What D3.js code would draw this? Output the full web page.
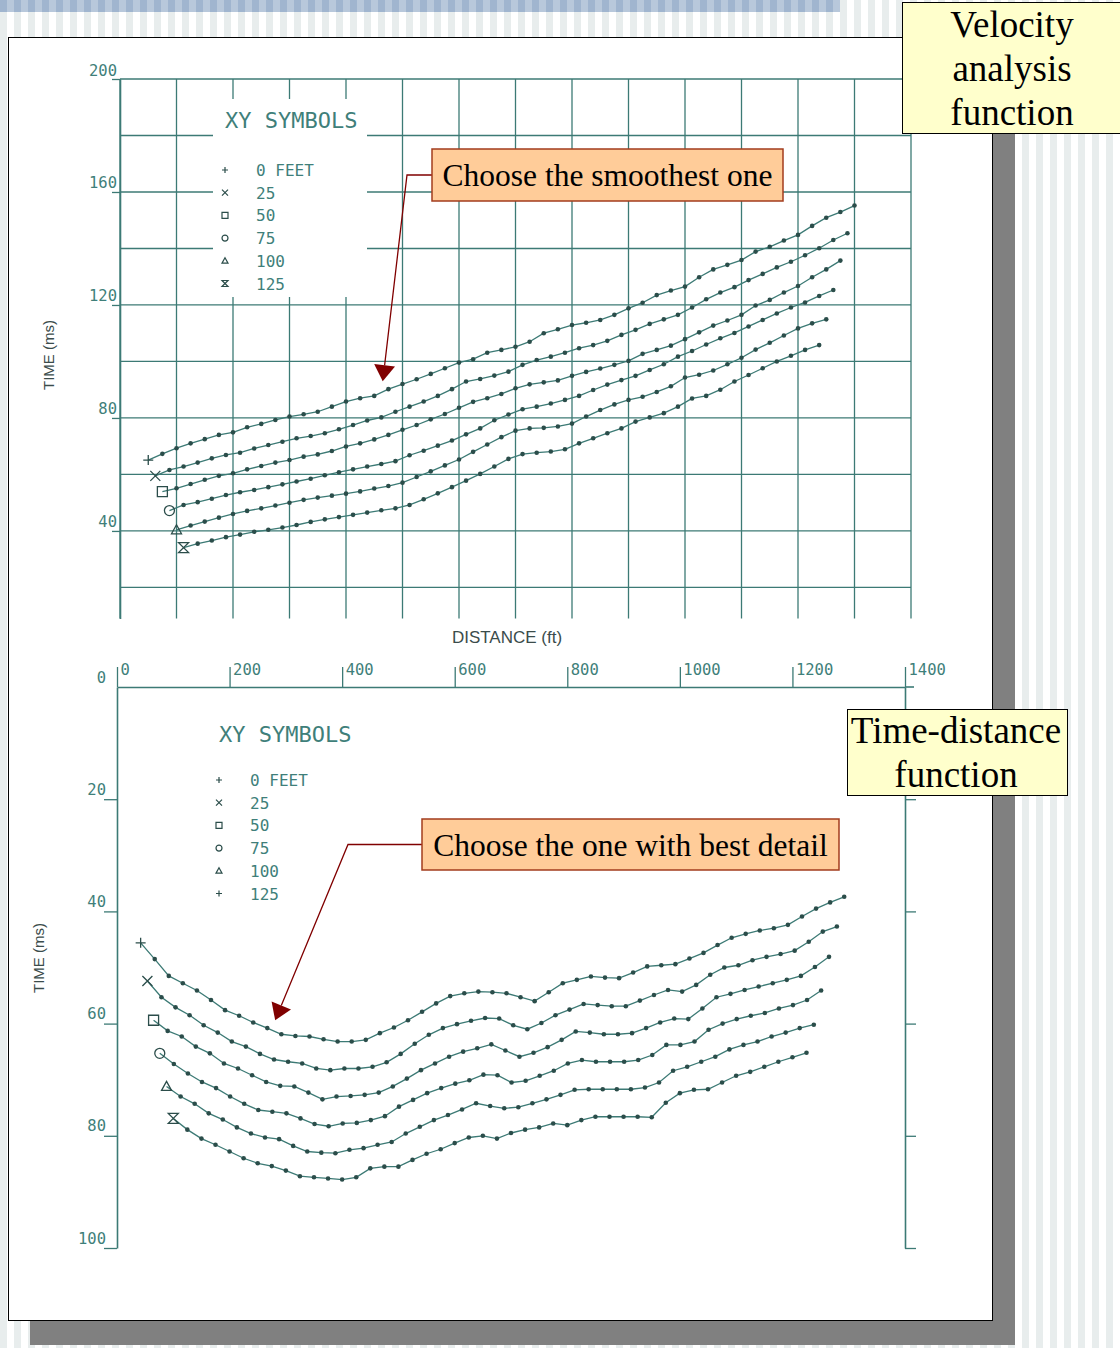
<!DOCTYPE html>
<html>
<head>
<meta charset="utf-8">
<script src="https://cdn.jsdelivr.net/npm/d3@7"></script>
<style>
    body { margin: 0; background: #fff; }
    svg { display: block; }
</style>
</head>
<body>
<svg id="slide" width="1120" height="1348"></svg>
<script>
// offsets shown in both legends (feet)
const offsets = [0, 25, 50, 75, 100, 125];
const pointStep = 25;

// velocity analysis (top plot): first distance of each offset curve, then times (ms) every 25 ft
const velStart = [50, 62.5, 75, 87.5, 100, 112.5];
const vel0 = [65.1, 67.3, 69.3, 71.0, 72.5, 74.0, 74.9, 76.7, 77.9, 79.3, 80.5, 81.3, 82.2, 84.0, 85.8, 87.0, 87.8, 90.2, 92.0, 93.7,
    95.6, 97.6, 99.6, 100.8, 103.1, 104.1, 105.2, 107.0, 110.0, 111.4, 112.9, 113.7, 114.7, 116.5, 118.8, 120.8, 123.5, 125.1, 126.5,
    129.8, 132.6, 134.2, 135.9, 138.9, 140.6, 142.8, 144.8, 148.0, 150.9, 152.9, 155.2];
const vel1 = [59.5, 61.6, 62.8, 64.2, 65.7, 66.9, 67.7, 69.2, 70.4, 71.6, 72.8, 73.6, 74.6, 76.0, 77.5, 79.1, 80.2, 82.2, 84.0, 85.8,
    87.8, 90.2, 92.9, 93.8, 95.0, 96.4, 98.8, 100.5, 101.7, 103.1, 104.7, 105.8, 107.3, 109.4, 111.2, 113.3, 114.9, 116.5, 119.1,
    122.0, 124.4, 126.3, 128.8, 131.0, 133.3, 135.3, 137.6, 140.1, 143.0, 145.4];
const vel2 = [53.9, 55.1, 56.6, 58.1, 59.5, 60.4, 61.8, 63.0, 64.2, 65.1, 66.3, 67.1, 68.3, 69.9, 71.0, 72.4, 74.0, 75.8, 77.5, 79.5,
    81.4, 83.6, 85.7, 87.0, 88.5, 90.5, 91.9, 92.6, 93.3, 94.9, 96.3, 97.5, 98.8, 100.2, 102.7, 104.1, 105.6, 107.9, 110.3, 112.7,
    114.5, 116.5, 119.8, 121.8, 124.4, 126.7, 129.8, 132.6, 135.7];
const vel3 = [47.2, 49.2, 50.2, 51.4, 52.7, 53.7, 54.5, 55.5, 56.5, 57.5, 58.5, 59.7, 60.8, 61.8, 62.8, 63.7, 64.7, 66.8, 68.4, 70.2,
    72.0, 74.2, 76.3, 79.2, 81.2, 83.1, 84.0, 85.1, 86.4, 87.8, 89.9, 91.8, 93.4, 94.9, 97.0, 99.0, 101.7, 103.7, 106.0, 108.2,
    110.1, 112.4, 114.7, 117.0, 119.1, 120.9, 123.2, 125.3];
const vel4 = [40.4, 41.9, 43.3, 44.7, 46.0, 47.1, 48.0, 49.0, 50.0, 51.0, 51.8, 52.5, 53.2, 54.0, 55.0, 55.9, 57.1, 59.1, 61.1, 63.2,
    65.3, 68.0, 70.6, 73.2, 75.5, 76.3, 76.5, 77.0, 78.0, 80.5, 82.8, 84.8, 86.4, 87.5, 89.2, 91.2, 94.3, 95.3, 96.8, 99.0,
    101.3, 104.2, 106.6, 109.2, 111.7, 113.5, 114.9];
const vel5 = [34.1, 35.5, 36.6, 37.8, 38.7, 39.7, 40.4, 41.2, 42.1, 43.2, 44.1, 44.9, 45.7, 46.5, 47.3, 48.0, 49.2, 51.2, 53.3, 55.5,
    57.8, 60.2, 62.8, 65.5, 67.2, 67.7, 68.1, 68.9, 71.0, 72.8, 74.6, 76.3, 78.7, 80.2, 81.7, 84.0, 86.9, 87.8, 90.0, 92.9,
    95.2, 97.6, 100.0, 102.0, 104.1, 105.8];

// time-distance (bottom plot)
const tdStart = [42, 54, 65, 76, 88, 100];
const td0 = [45.6, 48.5, 51.5, 52.8, 54.1, 55.8, 57.6, 58.6, 59.8, 60.8, 61.9, 62.2, 62.3, 62.8, 63.2, 63.2, 62.9, 61.7, 60.7, 59.4,
    57.9, 56.4, 55.1, 54.6, 54.3, 54.4, 54.6, 55.3, 56.0, 54.4, 52.8, 52.2, 51.6, 51.8, 51.9, 50.9, 49.8, 49.6, 49.4, 48.4,
    47.4, 46.0, 44.7, 44.0, 43.4, 43.0, 42.4, 40.9, 39.5, 38.4, 37.4];
const td1 = [52.4, 55.3, 57.1, 58.5, 60.3, 61.6, 63.2, 64.1, 65.4, 66.4, 66.8, 67.1, 68.0, 68.3, 68.0, 68.0, 67.7, 66.9, 65.4, 63.6,
    62.0, 60.8, 60.1, 59.5, 59.0, 59.1, 60.3, 61.0, 59.9, 58.5, 57.5, 56.5, 56.7, 56.9, 56.9, 55.9, 54.9, 54.0, 54.3, 53.1,
    51.3, 50.0, 49.6, 48.7, 48.1, 47.6, 47.0, 45.4, 43.6, 42.7];
const td2 = [59.4, 61.3, 62.3, 64.1, 65.3, 67.1, 68.0, 69.2, 70.4, 71.1, 71.2, 72.3, 73.5, 73.0, 72.9, 72.7, 72.3, 71.2, 69.8, 68.3,
    67.1, 65.9, 65.0, 64.4, 63.7, 64.8, 65.9, 65.2, 64.2, 62.9, 61.4, 61.6, 61.9, 61.9, 61.7, 60.8, 59.8, 59.1, 59.2, 57.3,
    55.3, 54.7, 54.0, 53.4, 52.8, 52.2, 51.5, 49.9, 48.1];
const td3 = [65.3, 67.2, 68.9, 70.4, 71.5, 73.0, 74.3, 75.4, 75.7, 76.0, 76.9, 77.9, 78.3, 77.8, 77.7, 77.2, 76.5, 74.8, 73.6, 72.4,
    71.5, 70.7, 70.1, 69.1, 69.2, 70.5, 70.2, 69.3, 68.4, 67.1, 66.5, 66.8, 66.8, 66.8, 66.5, 65.6, 63.8, 63.8, 63.2, 61.1,
    60.0, 59.2, 58.6, 58.1, 57.3, 56.7, 55.8, 54.1];
const td4 = [71.2, 73.0, 74.3, 76.0, 77.1, 78.5, 79.6, 80.3, 80.6, 81.8, 82.8, 83.0, 83.1, 82.5, 82.2, 81.6, 81.1, 79.6, 78.4, 77.2,
    76.3, 75.3, 74.2, 74.7, 75.1, 74.9, 74.2, 73.5, 72.7, 71.8, 71.7, 71.7, 71.7, 71.7, 71.4, 70.5, 68.4, 67.7, 66.8, 65.9,
    64.6, 63.8, 63.2, 62.3, 61.6, 60.8, 60.2];
const td5 = [76.9, 78.9, 80.5, 81.6, 82.8, 84.0, 84.9, 85.4, 86.2, 87.2, 87.4, 87.6, 87.8, 87.4, 85.8, 85.5, 85.5, 84.3, 83.2, 82.4,
    81.3, 80.3, 80.0, 80.5, 79.5, 78.9, 78.5, 77.8, 78.1, 77.2, 76.6, 76.6, 76.6, 76.6, 76.7, 74.1, 72.4, 71.8, 71.7, 70.5,
    69.3, 68.6, 67.7, 66.8, 66.0, 65.2];

const velTimeTicks = [40, 80, 120, 160, 200];
const tdTimeTicks = [0, 20, 40, 60, 80, 100];
const tdDistTicks = [0, 200, 400, 600, 800, 1000, 1200, 1400];
const velMarks = ['plus', 'cross', 'square', 'circle', 'triangle', 'hourglass'];
const tdLegendMarks = ['plus', 'cross', 'square', 'circle', 'triangle', 'plus'];

const notes = [
    { lines: ['Velocity', 'analysis', 'function'], box: [902, 2, 222, 131] },
    { lines: ['Time-distance', 'function'], box: [847, 709, 220, 86] },
];
const callouts = [
    { text: 'Choose the smoothest one', box: [432, 149, 351, 52], elbowX: 407, plot: 'vel', tip: [465, 93] },
    { text: 'Choose the one with best detail', box: [422, 819, 417, 51], elbowX: 348, plot: 'td', tip: [281, 59.4] },
];

const ink = '#3c7a75';
const dotInk = '#2b4d4a';
const textInk = '#3f7f7a';
const mono = "'DejaVu Sans Mono', monospace";
const sans = "'Liberation Sans', Arial, sans-serif";
const serif = "'Liberation Serif', 'Times New Roman', serif";

const svg = d3.select('#slide');

// slide background: stripes, top band, shadowed sheet
svg.append('rect').attr('width', 1120).attr('height', 1348).attr('fill', '#fff');
svg.append('g').selectAll('rect')
    .data(d3.range(0, 1120, 14))
    .join('rect')
    .attr('x', d => d).attr('width', 7).attr('height', 1348)
    .attr('fill', '#e8eded');
svg.append('rect').attr('width', 840).attr('height', 12).attr('fill', '#a0b5cf');
svg.append('g').selectAll('rect')
    .data(d3.range(0, 840, 14))
    .join('rect')
    .attr('x', d => d + 7).attr('width', 7).attr('height', 12)
    .attr('fill', '#b8c8db');
svg.append('rect').attr('x', 30).attr('y', 60).attr('width', 985).attr('height', 1285).attr('fill', '#808080');
svg.append('rect').attr('x', 8.5).attr('y', 37.5).attr('width', 984).attr('height', 1283)
    .attr('fill', '#fff').attr('stroke', '#000');

function markPath(kind, s) {
    switch (kind) {
    case 'plus': return `M${-s},0H${s}M0,${-s}V${s}`;
    case 'cross': return `M${-s},${-s}L${s},${s}M${-s},${s}L${s},${-s}`;
    case 'square': return `M${-s},${-s}H${s}V${s}H${-s}Z`;
    case 'circle': return `M${s},0A${s},${s} 0 1,1 ${-s},0A${s},${s} 0 1,1 ${s},0Z`;
    case 'triangle': return `M0,${-s}L${s},${s * 0.8}H${-s}Z`;
    case 'hourglass': return `M${-s},${-s}H${s}L${-s},${s}H${s}Z`;
    default: return '';
    }
}

function drawCurves(g, x, y, series, starts, marks, markSize) {
    const line = d3.line().x(d => x(d.d)).y(d => y(d.t));
    series.forEach((times, k) => {
        const pts = times.map((t, i) => ({ d: starts[k] + i * pointStep, t }));
        g.append('path')
            .attr('d', line(pts))
            .attr('fill', 'none').attr('stroke', ink).attr('stroke-width', 1.3);
        g.append('g').selectAll('circle')
            .data(pts.slice(1))
            .join('circle')
            .attr('cx', d => x(d.d)).attr('cy', d => y(d.t)).attr('r', 2.3)
            .attr('fill', dotInk);
        g.append('path')
            .attr('transform', `translate(${x(pts[0].d)},${y(pts[0].t)})`)
            .attr('d', markPath(marks[k], markSize))
            .attr('fill', 'none').attr('stroke', dotInk).attr('stroke-width', 1.3);
    });
}

function drawLegend(g, x0, y0, gap, marks) {
    g.append('text')
        .attr('x', x0).attr('y', y0)
        .attr('font-family', mono).attr('font-size', 22).attr('fill', textInk)
        .text('XY SYMBOLS');
    const rows = g.append('g').selectAll('g')
        .data(offsets)
        .join('g')
        .attr('transform', (d, i) => `translate(${x0},${y0 + gap + i * 22.7})`);
    rows.append('path')
        .attr('d', (d, i) => markPath(marks[i], 3))
        .attr('fill', 'none').attr('stroke', dotInk).attr('stroke-width', 1.2);
    rows.append('text')
        .attr('x', 31).attr('y', 6)
        .attr('font-family', mono).attr('font-size', 16).attr('fill', textInk)
        .text((d, i) => (i === 0 ? `${d} FEET` : `${d}`));
}

const styleAxis = (g, size) => {
    g.select('.domain').attr('stroke', ink).attr('stroke-width', 1.6);
    g.selectAll('.tick line').attr('stroke', ink).attr('stroke-width', 1.3);
    g.selectAll('.tick text')
        .attr('font-family', mono).attr('font-size', size).attr('fill', textInk);
};

// ---- velocity analysis plot (top)
const xVel = d3.scaleLinear([0, 1400], [120, 911]);
const yVel = d3.scaleLinear([9, 200], [618.5, 79]);
const vel = svg.append('g');

vel.append('g').selectAll('line')
    .data(d3.range(20, 201, 20))
    .join('line')
    .attr('x1', xVel(0)).attr('x2', xVel(1400))
    .attr('y1', d => yVel(d)).attr('y2', d => yVel(d))
    .attr('stroke', ink).attr('stroke-width', 1.3);
vel.append('g').selectAll('line')
    .data(d3.range(0, 1401, 100))
    .join('line')
    .attr('x1', d => xVel(d)).attr('x2', d => xVel(d))
    .attr('y1', yVel(200)).attr('y2', yVel(9))
    .attr('stroke', ink).attr('stroke-width', 1.3);

vel.append('g')
    .attr('transform', `translate(${xVel(0)},0)`)
    .call(d3.axisLeft(yVel).tickValues(velTimeTicks).tickSize(8).tickSizeOuter(0).tickFormat(d3.format('d')))
    .call(g => styleAxis(g, 15.5))
    .call(g => g.selectAll('.tick text').attr('x', -3).attr('dy', null).attr('y', -4));

vel.append('rect')
    .attr('x', 213).attr('y', 99).attr('width', 154).attr('height', 198)
    .attr('fill', '#fff');
drawLegend(vel, 225, 128, 42, velMarks);

drawCurves(vel, xVel, yVel, [vel0, vel1, vel2, vel3, vel4, vel5], velStart, velMarks, 5);

vel.append('text')
    .attr('transform', 'translate(54,355) rotate(-90)')
    .attr('text-anchor', 'middle')
    .attr('font-family', sans).attr('font-size', 15).attr('fill', '#3b4c4b')
    .text('TIME (ms)');

svg.append('text')
    .attr('x', 507).attr('y', 643)
    .attr('text-anchor', 'middle')
    .attr('font-family', sans).attr('font-size', 17).attr('fill', '#3b4c4b')
    .text('DISTANCE (ft)');

// ---- time-distance plot (bottom)
const xTd = d3.scaleLinear([0, 1400], [117, 905]);
const yTd = d3.scaleLinear([0, 100], [687, 1248]);
const td = svg.append('g');

td.append('g')
    .attr('transform', `translate(0,${yTd(0)})`)
    .call(d3.axisTop(xTd).tickValues(tdDistTicks).tickSize(20).tickSizeOuter(0).tickFormat(d3.format('d')))
    .call(g => styleAxis(g, 15.5))
    .call(g => g.selectAll('.tick text')
        .attr('text-anchor', 'start').attr('x', 3).attr('y', -12).attr('dy', null));
td.append('line')
    .attr('x1', xTd(1400)).attr('x2', xTd(1400) + 9)
    .attr('y1', yTd(0)).attr('y2', yTd(0))
    .attr('stroke', ink).attr('stroke-width', 1.6);

td.append('g')
    .attr('transform', `translate(${xTd(0)},0)`)
    .call(d3.axisLeft(yTd).tickValues(tdTimeTicks).tickSize(13).tickSizeOuter(0).tickFormat(d3.format('d')))
    .call(g => styleAxis(g, 15.5))
    .call(g => g.selectAll('.tick text').attr('x', -11).attr('dy', null).attr('y', -5))
    .call(g => g.selectAll('.tick').filter(d => d === 0).select('line').remove());

td.append('g')
    .attr('transform', `translate(${xTd(1400)},0)`)
    .call(d3.axisRight(yTd).tickValues(tdTimeTicks.slice(1)).tickSize(11).tickSizeOuter(0).tickFormat(''))
    .call(g => styleAxis(g, 15.5));

drawLegend(td, 219, 742, 38, tdLegendMarks);

drawCurves(td, xTd, yTd, [td0, td1, td2, td3, td4, td5], tdStart, velMarks, 5);

td.append('text')
    .attr('transform', 'translate(44,958) rotate(-90)')
    .attr('text-anchor', 'middle')
    .attr('font-family', sans).attr('font-size', 15).attr('fill', '#3b4c4b')
    .text('TIME (ms)');

// ---- slide annotations
notes.forEach(n => {
    const [bx, by, bw, bh] = n.box;
    svg.append('rect')
        .attr('x', bx + 0.5).attr('y', by + 0.5).attr('width', bw).attr('height', bh)
        .attr('fill', '#ffffcc').attr('stroke', '#000');
    svg.append('g').selectAll('text')
        .data(n.lines)
        .join('text')
        .attr('x', bx + bw / 2 - 1)
        .attr('y', (d, i) => by + bh / 2 + 13 + (i - (n.lines.length - 1) / 2) * 44)
        .attr('text-anchor', 'middle')
        .attr('font-family', serif).attr('font-size', 37).attr('fill', '#000')
        .text(d => d);
});

const scales = { vel: [xVel, yVel], td: [xTd, yTd] };
callouts.forEach(c => {
    const [bx, by, bw, bh] = c.box;
    const [sx, sy] = scales[c.plot];
    const tip = [sx(c.tip[0]), sy(c.tip[1])];
    const elbow = [c.elbowX, by + bh / 2];
    const len = Math.hypot(tip[0] - elbow[0], tip[1] - elbow[1]);
    const ux = (tip[0] - elbow[0]) / len;
    const uy = (tip[1] - elbow[1]) / len;
    const base = [tip[0] - 16 * ux, tip[1] - 16 * uy];

    svg.append('path')
        .attr('d', `M${bx},${elbow[1]}H${elbow[0]}L${base[0]},${base[1]}`)
        .attr('fill', 'none').attr('stroke', '#800000').attr('stroke-width', 1.3);
    svg.append('path')
        .attr('d', `M${tip[0]},${tip[1]}L${base[0] - 10.5 * uy},${base[1] + 10.5 * ux}L${base[0] + 10.5 * uy},${base[1] - 10.5 * ux}Z`)
        .attr('fill', '#800000');

    svg.append('rect')
        .attr('x', bx).attr('y', by).attr('width', bw).attr('height', bh)
        .attr('fill', '#ffcc99').attr('stroke', '#a33c1e').attr('stroke-width', 1.5);
    svg.append('text')
        .attr('x', bx + bw / 2).attr('y', by + bh / 2 + 11)
        .attr('text-anchor', 'middle')
        .attr('font-family', serif).attr('font-size', 31.5).attr('fill', '#000')
        .text(c.text);
});
</script>
</body>
</html>
